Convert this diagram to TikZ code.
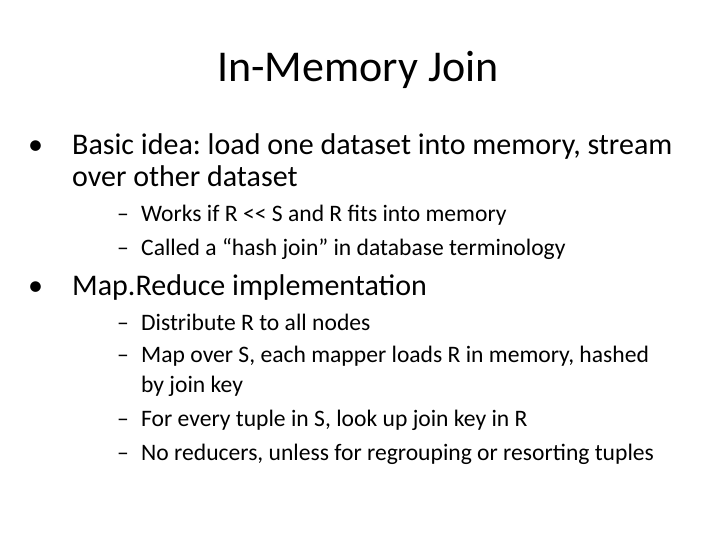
\documentclass[tikz,border=0pt]{standalone}
\usepackage{fontspec}
\setmainfont{Carlito}
\frenchspacing
\begin{document}
\begin{tikzpicture}[x=1pt,y=1pt,
  lvA/.style={anchor=base west,inner sep=0pt,font=\fontsize{30}{34}\selectfont},
  lvB/.style={anchor=base west,inner sep=0pt,font=\fontsize{23.6}{28}\selectfont}]
\useasboundingbox[fill=white] (0,0) rectangle (720,540);
\node[anchor=base,inner sep=0pt,font=\fontsize{44}{50}\selectfont] (title) at (358,540-82) {In-Memory Join};
\node[lvA] (b1) at (28,540-155) {•};
\node[lvA] (t1) at (72,540-155) {Basic idea: load one dataset into memory, stream};
\node[lvA] (t1b) at (72,540-187) {over other dataset};
\node[lvB] (d1) at (117,540-222) {–};
\node[lvB] (s1) at (141,540-222) {Works if R {<}{<} S and R fits into memory};
\node[lvB] (d2) at (117,540-256) {–};
\node[lvB] (s2) at (141,540-256) {Called a “hash join” in database terminology};
\node[lvA] (b2) at (28,540-296) {•};
\node[lvA] (t2) at (72,540-296) {Map.Reduce implementation};
\node[lvB] (d3) at (117,540-331) {–};
\node[lvB] (s3) at (141,540-331) {Distribute R to all nodes};
\node[lvB] (d4) at (117,540-363) {–};
\node[lvB] (s4) at (141,540-363) {Map over S, each mapper loads R in memory, hashed};
\node[lvB] (s4b) at (141,540-393) {by join key};
\node[lvB] (d5) at (117,540-427) {–};
\node[lvB] (s5) at (141,540-427) {For every tuple in S, look up join key in R};
\node[lvB] (d6) at (117,540-461) {–};
\node[lvB] (s6) at (141,540-461) {No reducers, unless for regrouping or resorting tuples};
\end{tikzpicture}
\end{document}
